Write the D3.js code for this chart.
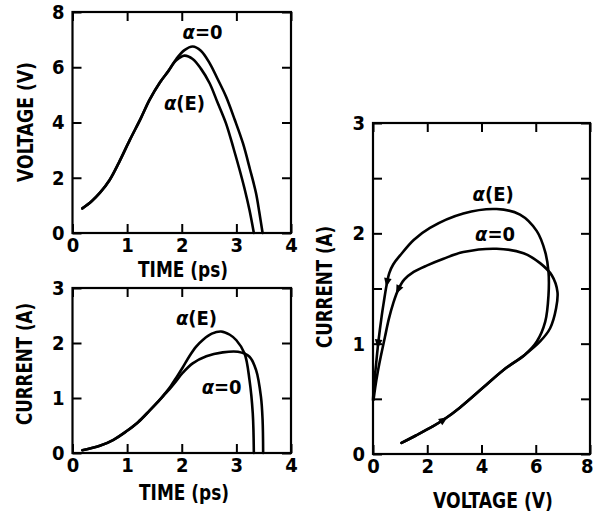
<!DOCTYPE html>
<html><head><meta charset="utf-8">
<script src="https://cdn.jsdelivr.net/npm/d3@7"></script>
<style>
html,body{margin:0;padding:0;background:#fff;}
svg text{font-family:"Liberation Sans Narrow","Arial Narrow","DejaVu Sans Condensed",sans-serif;font-weight:bold;fill:#000;}
</style></head>
<body><svg id="c" width="594" height="512"></svg>
<script>
// ---- Data ----
// Panel A: voltage vs time
const voltTimeE = [0.18,0.35,0.5,0.68,0.85,1.05,1.25,1.41,1.6,1.75,1.9,2.05,2.2,2.35,2.51,2.65,2.81,2.95,3.06,3.15,3.24,3.32];
const voltE     = [0.89,1.15,1.45,1.92,2.55,3.37,4.15,4.82,5.45,5.85,6.25,6.42,6.3,5.95,5.42,4.75,3.97,3.05,2.28,1.6,0.83,0];
const voltTime0 = [0.18,0.35,0.5,0.68,0.85,1.05,1.25,1.41,1.6,1.75,1.9,2.05,2.2,2.35,2.51,2.65,2.81,2.97,3.12,3.25,3.36,3.42,3.48];
const volt0     = [0.89,1.15,1.45,1.92,2.55,3.37,4.15,4.82,5.45,5.85,6.3,6.62,6.75,6.6,6.15,5.6,4.94,4.1,3.25,2.3,1.44,0.75,0];
// Panel B: current vs time
const currTimeE = [0.18,0.5,0.75,0.98,1.2,1.41,1.6,1.7,1.8,1.9,2.02,2.14,2.26,2.39,2.55,2.72,2.88,3.0,3.15,3.24,3.3,3.32];
const currE     = [0.05,0.13,0.24,0.39,0.56,0.77,0.97,1.09,1.22,1.37,1.56,1.76,1.93,2.06,2.17,2.21,2.15,2.05,1.81,1.33,0.72,0];
const currTime0 = [0.18,0.5,0.75,0.98,1.2,1.41,1.6,1.7,1.8,1.9,2.02,2.2,2.45,2.75,3.03,3.24,3.36,3.45,3.48,3.49];
const curr0     = [0.05,0.13,0.24,0.39,0.56,0.77,0.97,1.08,1.19,1.31,1.46,1.63,1.76,1.83,1.84,1.75,1.51,1.02,0.6,0];
// Panel C: current vs voltage loops
const ivVoltE = [1.05,1.6,2.2,2.6,3.2,4.05,4.8,5.6,6.04,6.35,6.47,6.47,6.35,6.04,5.42,4.56,3.33,2.1,1.5,1.0,0.75,0.6,0.5,0.4,0.32,0.2,0.1,0.03,0.0];
const ivCurrE = [0.1,0.17,0.25,0.31,0.42,0.6,0.76,0.9,1.02,1.2,1.44,1.65,1.83,2.02,2.17,2.22,2.18,2.05,1.94,1.8,1.72,1.64,1.53,1.38,1.25,1.02,0.78,0.6,0.49];
const ivVolt0 = [1.05,1.6,2.2,2.6,3.2,4.05,4.8,5.6,6.16,6.53,6.75,6.8,6.59,6.16,5.55,4.56,3.33,2.6,2.0,1.5,1.15,0.93,0.75,0.58,0.44,0.3,0.18,0.08,0.02];
const ivCurr0 = [0.1,0.17,0.25,0.31,0.42,0.6,0.76,0.9,1.02,1.14,1.32,1.47,1.62,1.73,1.82,1.86,1.83,1.77,1.71,1.65,1.58,1.49,1.37,1.22,1.06,0.9,0.75,0.6,0.49];
// arrow positions on the loops (V, I) and which loop
const arrowLoop = ["E","E","0","E"];
const arrowVolt = [2.6,0.5,0.93,0.2];
const arrowCurr = [0.31,1.56,1.49,1.0];
// tick labels
const timeTicks = [0,1,2,3,4];
const voltTicksA = [0,2,4,6,8];
const currTicksB = [0,1,2,3];
const voltTicksC = [0,2,4,6,8];
const currTicksC = [0,0.5,1,1.5,2,2.5,3];

const svg = d3.select("#c");
const TICK = 9, FS = 20, TFS = 22;

function panel(xDom, yDom, xr, yr, xTicks, yTicks, yLabelFilter){
  const x = d3.scaleLinear().domain(xDom).range(xr);
  const y = d3.scaleLinear().domain(yDom).range(yr);
  const g = svg.append("g");
  const fmt = d => (yLabelFilter && !yLabelFilter(d)) ? "" : d3.format("d")(d);
  const style = a => { a.selectAll(".domain").remove(); a.selectAll("line").attr("stroke","#000").attr("stroke-width",2);
                       a.selectAll("text").style("font-size",FS+"px"); };
  const bx = g.append("g").attr("transform",`translate(0,${yr[0]})`)
    .call(d3.axisBottom(x).tickValues(xTicks).tickSizeInner(-TICK).tickSizeOuter(0).tickPadding(5).tickFormat(d3.format("d"))).call(style);
  // keep the last label inside the page
  bx.selectAll(".tick text").each(function(){
    const bb = this.getBBox(); const tx = x(d3.select(this.parentNode).datum());
    if (tx + bb.width/2 > 593) d3.select(this).attr("text-anchor","end").attr("x", 593 - tx);
  });
  g.append("g").attr("transform",`translate(0,${yr[1]})`)
    .call(d3.axisTop(x).tickValues(xTicks).tickSizeInner(-TICK).tickSizeOuter(0).tickFormat("")).call(style);
  g.append("g").attr("transform",`translate(${xr[0]},0)`)
    .call(d3.axisLeft(y).tickValues(yTicks).tickSizeInner(-TICK).tickSizeOuter(0).tickPadding(8).tickFormat(fmt)).call(style);
  g.append("g").attr("transform",`translate(${xr[1]},0)`)
    .call(d3.axisRight(y).tickValues(yTicks).tickSizeInner(-TICK).tickSizeOuter(0).tickFormat("")).call(style);
  g.append("rect").attr("x",xr[0]).attr("y",yr[1]).attr("width",xr[1]-xr[0]).attr("height",yr[0]-yr[1])
    .attr("fill","none").attr("stroke","#000").attr("stroke-width",2.2);
  return {x,y,g};
}

function curve(p, xs, ys){
  const line = d3.line().x((d,i)=>p.x(xs[i])).y((d,i)=>p.y(ys[i])).curve(d3.curveCatmullRom.alpha(0.5));
  return p.g.append("path").attr("d", line(xs)).attr("fill","none").attr("stroke","#000")
    .attr("stroke-width",2.6).attr("stroke-linejoin","round").attr("stroke-linecap","round");
}

function alphaLabel(p, xv, yv, rest){
  const t = p.g.append("text").attr("x",p.x(xv)).attr("y",p.y(yv)).attr("text-anchor","middle")
    .attr("dominant-baseline","central").style("font-size",FS+"px");
  t.append("tspan").style("font-style","italic").text("α");
  t.append("tspan").text(rest);
}

function title(txt, cx, cy, rot, len){
  svg.append("text").attr("transform",`translate(${cx},${cy}) rotate(${rot})`).attr("text-anchor","middle")
    .attr("dominant-baseline","central").style("font-size",TFS+"px")
    .attr("textLength",len).attr("lengthAdjust","spacingAndGlyphs").text(txt);
}

// Panel A
const A = panel([0,4],[0,8],[72.5,291],[233,12],timeTicks,voltTicksA);
curve(A, voltTimeE, voltE);
curve(A, voltTime0, volt0);
alphaLabel(A, 2.38, 7.28, "=0");
alphaLabel(A, 2.05, 4.71, "(E)");
title("VOLTAGE (V)", 25, 122, -90, 120);
title("TIME (ps)", 183, 269, 0, 90);

// Panel B
const B = panel([0,4],[0,3],[72.5,291],[453,288],timeTicks,currTicksB);
curve(B, currTimeE, currE);
curve(B, currTime0, curr0);
alphaLabel(B, 2.27, 2.45, "(E)");
alphaLabel(B, 2.73, 1.2, "=0");
title("CURRENT (A)", 24, 364, -90, 122);
title("TIME (ps)", 184, 492, 0, 90);

// Panel C
const C = panel([0,8],[0,3],[373,590],[454,123],voltTicksC,currTicksC, d => d%1===0);
const pE = curve(C, ivVoltE, ivCurrE);
const p0 = curve(C, ivVolt0, ivCurr0);
alphaLabel(C, 4.43, 2.36, "(E)");
alphaLabel(C, 4.5, 1.99, "=0");
title("CURRENT (A)", 324, 287, -90, 122);
title("VOLTAGE (V)", 493, 500, 0, 120);

// arrows: oriented along path
arrowLoop.forEach((k,i)=>{
  const node = (k==="E"?pE:p0).node();
  const L = node.getTotalLength();
  const px = C.x(arrowVolt[i]), py = C.y(arrowCurr[i]);
  let best=0, bd=1e9;
  for(let l=0;l<=L;l+=0.5){ const q=node.getPointAtLength(l); const dd=(q.x-px)**2+(q.y-py)**2; if(dd<bd){bd=dd;best=l;} }
  const a=node.getPointAtLength(Math.max(0,best-3)), b=node.getPointAtLength(Math.min(L,best+3));
  const ang = Math.atan2(b.y-a.y,b.x-a.x)*180/Math.PI;
  const c = node.getPointAtLength(best);
  C.g.append("path").attr("d","M5,0 L-4,-3.8 L-4,3.8 Z").attr("fill","#000")
    .attr("transform",`translate(${c.x},${c.y}) rotate(${ang})`);
});
</script></body></html>
